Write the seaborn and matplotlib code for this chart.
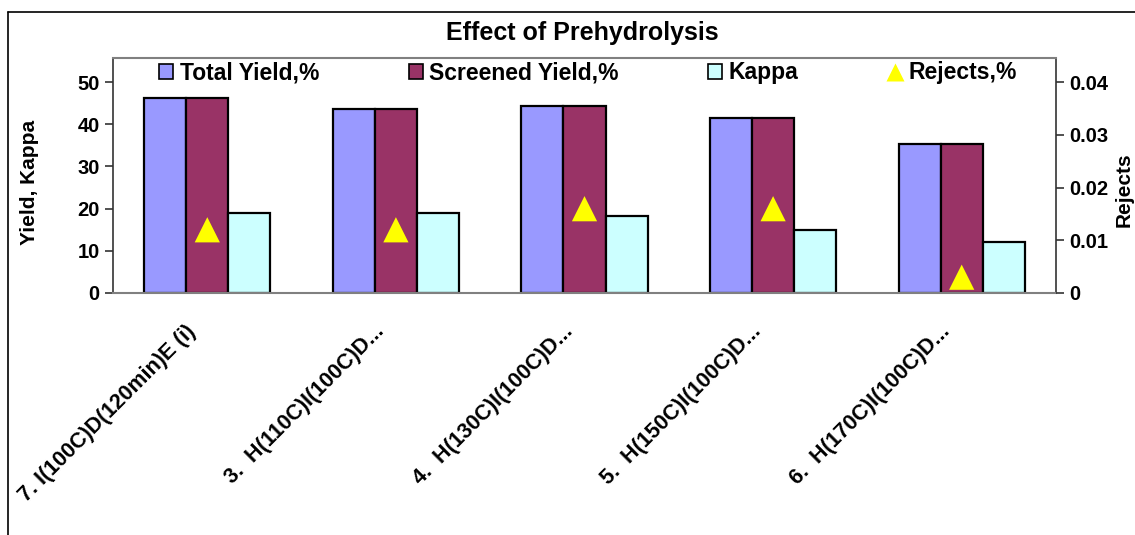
# Effect of Prehydrolysis - grouped bars with rejects on a second axis
import numpy as np
import pandas as pd
import matplotlib
matplotlib.use("Agg")
import matplotlib.pyplot as plt
import matplotlib.transforms as mtransforms
from matplotlib.lines import Line2D
import seaborn as sns

# ==========================
# Data
# ==========================
categories = ["7. I(100C)D(120min)E (i)", "3.  H(110C)I(100C)D...", "4.  H(130C)I(100C)D...",
              "5.  H(150C)I(100C)D...", "6.  H(170C)I(100C)D..."]
total_yield = [46.2, 43.6, 44.3, 41.5, 35.3]
screened_yield = [46.2, 43.6, 44.3, 41.5, 35.3]
kappa = [19.0, 19.0, 18.3, 15.0, 12.2]
rejects = [0.012, 0.012, 0.016, 0.016, 0.003]

series_names = ["Total Yield,%", "Screened Yield,%", "Kappa"]
colors = ["#9999FF", "#993366", "#CCFFFF"]

df = pd.DataFrame({
    "category": categories * 3,
    "series": [series_names[0]] * 5 + [series_names[1]] * 5 + [series_names[2]] * 5,
    "value": total_yield + screened_yield + kappa,
})

sns.set_style("white")
plt.rcParams["font.family"] = ["Liberation Sans", "DejaVu Sans"]
plt.rcParams["font.weight"] = "bold"
plt.rcParams["text.color"] = "black"
plt.rcParams["axes.labelcolor"] = "black"
plt.rcParams["xtick.color"] = "black"
plt.rcParams["ytick.color"] = "black"

fig = plt.figure(figsize=(11.35, 5.35), dpi=100)
ax = fig.add_axes([113 / 1135, 1 - 293 / 535, (1056 - 113) / 1135, (293 - 58) / 535])

sns.barplot(data=df, x="category", y="value", hue="series", palette=colors, saturation=1,
            width=0.67, gap=0, edgecolor="black", linewidth=1.6, ax=ax, legend=True)

ax.set_xlim(-0.5, 4.5)
ax.set_ylim(0, 55.7)
ax.set_yticks([0, 10, 20, 30, 40, 50])
ax.set_xlabel("")
ax.set_ylabel("Yield, Kappa", fontsize=15, fontweight="bold")
ax.yaxis.set_label_coords(-74 / 943, 0.47)

# x ticks at category boundaries, labels at centres
ax.set_xticks(np.arange(-0.5, 5, 1), minor=False)
ax.set_xticklabels([])
ax.set_xticks(np.arange(5), minor=True)
ax.set_xticklabels(categories, minor=True, rotation=45, ha="right", va="center",
                   rotation_mode="anchor", fontsize=15.5, fontweight="bold")
ax.tick_params(axis="x", which="minor", length=0, pad=14)
ax.tick_params(axis="x", which="major", direction="out", length=6, color="#808080", width=1.2)
ax.tick_params(axis="y", direction="out", length=6, width=1.2, color="#333333",
               labelsize=14.5, left=True)
for lab in ax.get_yticklabels():
    lab.set_fontweight("bold")
shift = mtransforms.ScaledTranslation(-0.15, -0.16, fig.dpi_scale_trans)
for lab in ax.get_xticklabels(minor=True):
    lab.set_transform(lab.get_transform() + shift)

for side in ["left", "right"]:
    ax.spines[side].set_color("#333333")
    ax.spines[side].set_linewidth(1.2)
for side in ["top", "bottom"]:
    ax.spines[side].set_color("#808080")
    ax.spines[side].set_linewidth(1.5)

# Rejects on the right axis
ax2 = ax.twinx()
ax2.scatter(np.arange(len(categories)), rejects, marker="^", s=330, color="#FFFF00",
            edgecolor="none", zorder=5, label="Rejects,%")
ax2.set_ylim(0, 0.0446)
ax2.set_yticks([0, 0.01, 0.02, 0.03, 0.04])
ax2.set_yticklabels(["0", "0.01", "0.02", "0.03", "0.04"])
ax2.tick_params(axis="y", direction="out", length=6, width=1.2, color="#333333",
                labelsize=14.5, right=True)
for lab in ax2.get_yticklabels():
    lab.set_fontweight("bold")
ax2.set_ylabel("Rejects", fontsize=15, fontweight="bold")
ax2.yaxis.set_label_coords(1 + 59 / 943, 0.44)
for s in ax2.spines.values():
    s.set_visible(False)

# Combined legend in a band across the top of the plot area
handles, labels = ax.get_legend_handles_labels()
ax.get_legend().remove()
tri = Line2D([], [], marker="^", linestyle="none", markersize=13,
             markerfacecolor="#FFFF00", markeredgecolor="none")
leg = ax2.legend(handles + [tri], labels + ["Rejects,%"], loc="center",
                 bbox_to_anchor=(0.504, (293 - 73) / 235), ncol=4, borderaxespad=0,
                 frameon=False, columnspacing=3.9,
                 handlelength=0.6, handleheight=0.6, handletextpad=0.3,
                 prop={"weight": "bold", "size": 16.5})
for p in leg.get_patches():
    p.set_edgecolor("black")
    p.set_linewidth(1.2)
ax2.axhline((293 - 88) / 235, color="#808080", lw=1.5)

fig.text(582 / 1135, 1 - 33 / 535, "Effect of Prehydrolysis", ha="center", va="center",
         fontsize=18, fontweight="bold")

# outer chart frame (top and left edges visible)
fig.add_artist(Line2D([8 / 1135, 8 / 1135], [0, 1 - 12 / 535], color="black", lw=1.2,
                      transform=fig.transFigure))
fig.add_artist(Line2D([8 / 1135, 1], [1 - 12 / 535, 1 - 12 / 535], color="black", lw=1.2,
                      transform=fig.transFigure))

fig.savefig("out.png", dpi=100)
